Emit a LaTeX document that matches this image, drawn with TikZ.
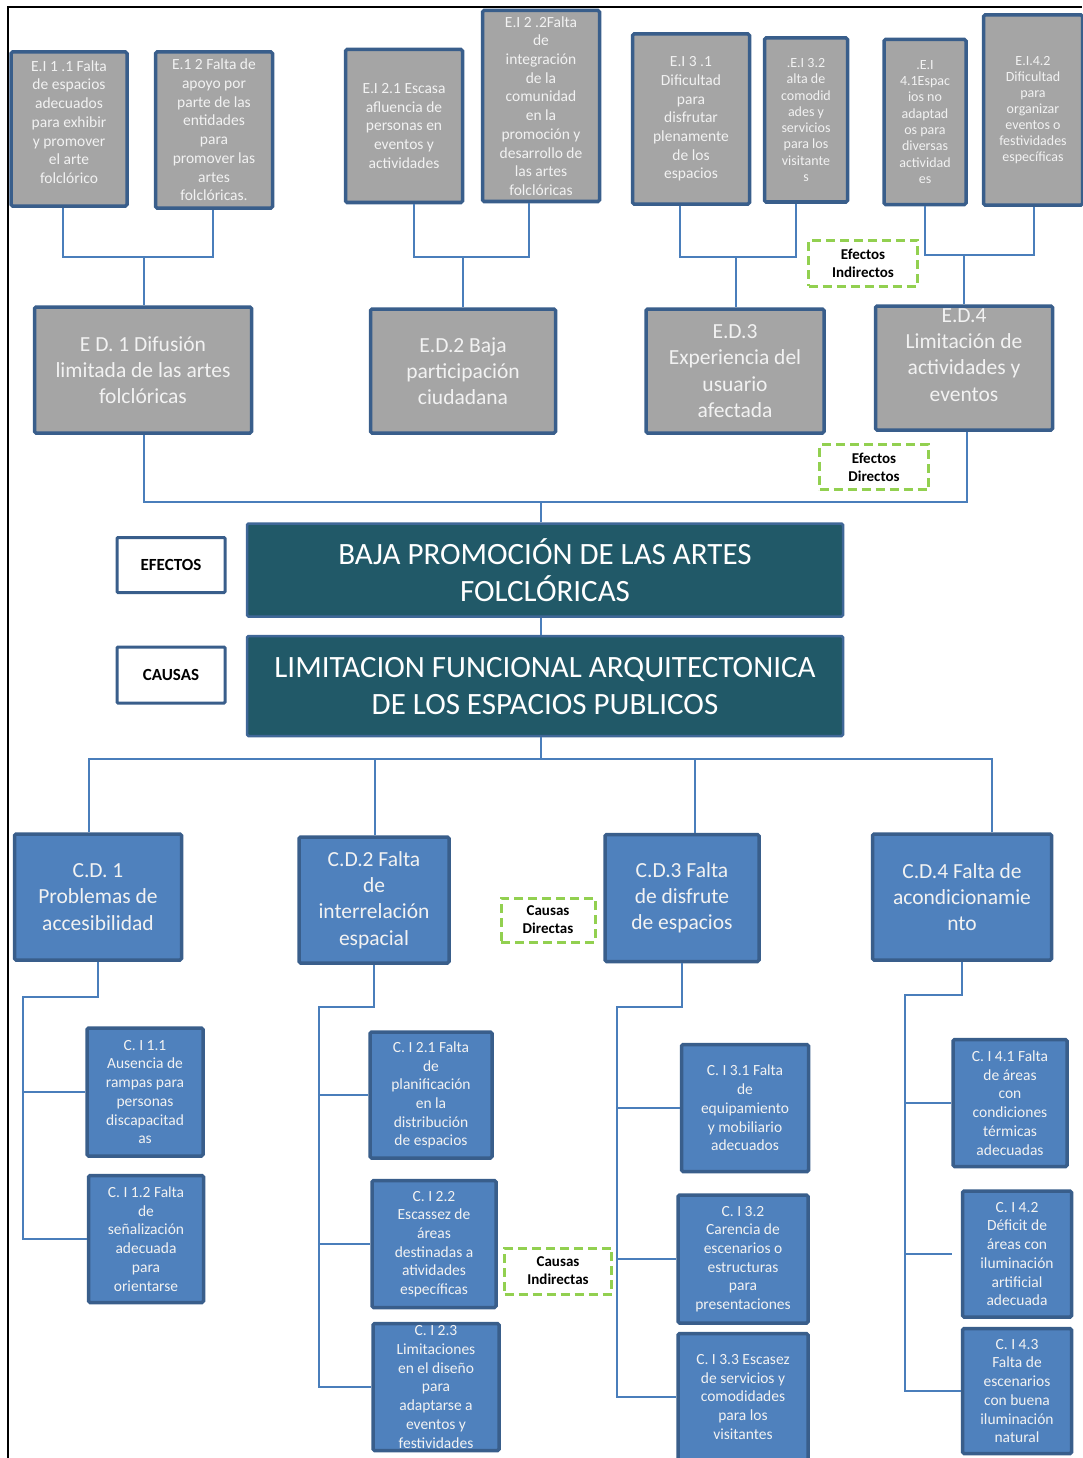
\documentclass[tikz,border=0pt]{standalone}
\usepackage{fontspec}
\setmainfont{Carlito}
\definecolor{boxgrey}{HTML}{A5A5A5}
\definecolor{frameblue}{HTML}{395E8B}
\definecolor{causeblue}{HTML}{4F81BD}
\definecolor{linkblue}{HTML}{4A7EBB}
\definecolor{coreteal}{HTML}{215968}
\definecolor{notegreen}{HTML}{92D050}
\definecolor{lighttext}{HTML}{F2F2F2}
\begin{document}
\begin{tikzpicture}
            [
            x = 1pt, y = -1pt,
            boxsize/.style 2 args = {minimum width = #1pt, minimum height = #2pt},
            link/.style = {draw = linkblue, line width = 1.8pt},
            ]
            \tikzstyle{grey node}=[rectangle,draw=frameblue,fill=boxgrey,line width=3.5pt,rounded corners=1.5pt,inner sep=0,align=center,text=lighttext,font=\fontsize{15.5}{18.7}\selectfont]
            \tikzstyle{big grey node}=[grey node,font=\fontsize{21.5}{26.2}\selectfont]
            \tikzstyle{cause node}=[grey node,fill=causeblue]
            \tikzstyle{big cause node}=[big grey node,fill=causeblue]
            \tikzstyle{core node}=[rectangle,draw=causeblue!80!black,fill=coreteal,line width=2.5pt,rounded corners=1.5pt,inner sep=0,align=center,text=white,font=\fontsize{31}{37}\selectfont]
            \tikzstyle{tag node}=[rectangle,draw=frameblue,fill=white,line width=3pt,rounded corners=1pt,inner sep=0,font=\fontsize{17}{20}\selectfont\bfseries]
            \tikzstyle{note node}=[rectangle,draw=notegreen,line width=3pt,dash pattern=on 9pt off 5pt,inner sep=0,align=center,font=\fontsize{15}{18}\selectfont\bfseries]
        
            \useasboundingbox (0,0) rectangle (1082,1458);
            \draw[black, line width=2pt] (8,1458) -- (8,7) -- (1082,7);

            % efectos indirectos
            \node[grey node, boxsize={116}{154}] (ei11) at (69,129) {E.I 1 .1 Falta\\de espacios\\adecuados\\para exhibir\\y promover\\el arte\\folclórico\\[-4.7pt]\mbox{}};
            \node[grey node, boxsize={117}{156}] (ei12) at (214,130) {E.1 2 Falta de\\apoyo por\\parte de las\\entidades\\para\\promover las\\artes\\folclóricas.};
            \node[grey node, boxsize={117}{153}] (ei21) at (404,126) {E.I 2.1 Escasa\\afluencia de\\personas en\\eventos y\\actividades};
            \node[grey node, boxsize={117}{191}] (ei22) at (541,106) {E.I 2 .2Falta\\de\\integración\\de la\\comunidad\\en la\\promoción y\\desarrollo de\\las artes\\folclóricas};
            \node[grey node, boxsize={117}{170}] (ei31) at (691,119) {E.I 3 .1\\Dificultad\\para\\disfrutar\\plenamente\\de los\\espacios};
            \node[grey node, boxsize={83}{164}, font=\fontsize{14}{16.3}\selectfont] (ei32) at (806,120) {.E.I 3.2\\alta de\\comodid\\ades y\\servicios\\para los\\visitante\\s};
            \node[grey node, boxsize={82}{165}, font=\fontsize{14}{16.3}\selectfont] (ei41) at (925,122) {.E.I\\4.1Espac\\ios no\\adaptad\\os para\\diversas\\actividad\\es};
            \node[grey node, boxsize={99}{190}, font=\fontsize{14}{16}\selectfont] (ei42) at (1033,110) {E.I.4.2\\Dificultad\\para\\organizar\\eventos o\\festividades\\específicas};

            % efectos directos
            \node[big grey node, boxsize={217}{126}] (ed1) at (143,370) {E D. 1 Difusión\\limitada de las artes\\folclóricas};
            \node[big grey node, boxsize={185}{124}] (ed2) at (463,371) {E.D.2 Baja\\participación\\ciudadana};
            \node[big grey node, boxsize={178}{124}] (ed3) at (735,371) {E.D.3\\Experiencia del\\usuario\\afectada};
            \node[big grey node, boxsize={177}{124}] (ed4) at (964,368) {E.D.4\\Limitación de\\actividades y\\eventos\\\mbox{}};

            \node[note node, boxsize={109}{46}] (nei) at (863,263) {Efectos\\Indirectos};
            \node[note node, boxsize={109}{45}] (ned) at (874,467) {Efectos\\Directos};

            % problema central
            \node[core node, boxsize={596}{93}] (core1) at (545,570) {BAJA PROMOCIÓN DE LAS ARTES\\FOLCLÓRICAS};
            \node[core node, boxsize={596}{100}] (core2) at (545,686) {LIMITACION FUNCIONAL ARQUITECTONICA\\DE LOS ESPACIOS PUBLICOS};
            \node[tag node, boxsize={108}{55}] (tefe) at (171,565) {EFECTOS};
            \node[tag node, boxsize={108}{56}] (tcau) at (171,675) {CAUSAS};

            % causas directas
            \node[big cause node, boxsize={167}{126}] (cd1) at (98,897) {C.D. 1\\Problemas de\\accesibilidad};
            \node[big cause node, boxsize={150}{126}] (cd2) at (374,900) {C.D.2 Falta\\de\\interrelación\\espacial};
            \node[big cause node, boxsize={154}{127}] (cd3) at (682,898) {C.D.3 Falta\\de disfrute\\de espacios};
            \node[big cause node, boxsize={179}{126}] (cd4) at (962,897) {C.D.4 Falta de\\acondicionamie\\nto};
            \node[note node, boxsize={94}{44}] (ncd) at (548,920) {Causas\\Directas};

            % causas indirectas
            \node[cause node, boxsize={116}{128}] (ci11) at (145,1092) {C. I 1.1\\Ausencia de\\rampas para\\personas\\discapacitad\\as};
            \node[cause node, boxsize={115}{127}] (ci12) at (146,1239) {C. I 1.2 Falta\\de\\señalización\\adecuada\\para\\orientarse};
            \node[cause node, boxsize={122}{126}] (ci21) at (431,1095) {C. I 2.1 Falta\\de\\planificación\\en la\\distribución\\de espacios};
            \node[cause node, boxsize={124}{127}] (ci22) at (434,1244) {C. I 2.2\\Escassez de\\áreas\\destinadas a\\atividades\\específicas};
            \node[cause node, boxsize={126}{127}] (ci23) at (436,1387) {C. I 2.3\\Limitaciones\\en el diseño\\para\\adaptarse a\\eventos y\\festividades};
            \node[cause node, boxsize={127}{127}] (ci31) at (745,1108) {C. I 3.1 Falta\\de\\equipamiento\\y mobiliario\\adecuados};
            \node[cause node, boxsize={130}{128}] (ci32) at (743,1259) {C. I 3.2\\Carencia de\\escenarios o\\estructuras\\para\\presentaciones};
            \node[cause node, boxsize={130}{127}] (ci33) at (743,1397) {C. I 3.3 Escasez\\de servicios y\\comodidades\\para los\\visitantes};
            \node[cause node, boxsize={114}{127}] (ci41) at (1010,1103) {C. I 4.1 Falta\\de áreas\\con\\condiciones\\térmicas\\adecuadas};
            \node[cause node, boxsize={109}{126}] (ci42) at (1017,1254) {C. I 4.2\\Déficit de\\áreas con\\iluminación\\artificial\\adecuada};
            \node[cause node, boxsize={109}{125}] (ci43) at (1017,1391) {C. I 4.3\\Falta de\\escenarios\\con buena\\iluminación\\natural};
            \node[note node, boxsize={107}{46}] (nci) at (558,1271) {Causas\\Indirectas};

            % conectores de efectos
            \coordinate (j1) at (144,257);
            \coordinate (j2) at (463,257);
            \coordinate (j3) at (736,257);
            \coordinate (j4) at (964,255);
            \draw[link] ([xshift=-6pt]ei11.south) |- (j1) -| ([xshift=-1pt]ei12.south);
            \draw[link] (j1) -- (j1 |- ed1.north);
            \draw[link] ([xshift=10pt]ei21.south) |- (j2) -| ([xshift=-12pt]ei22.south);
            \draw[link] (j2) -- (j2 |- ed2.north);
            \draw[link] ([xshift=-11pt]ei31.south) |- (j3) -| ([xshift=-10pt]ei32.south);
            \draw[link] (j3) -- (j3 |- ed3.north);
            \draw[link] (ei41.south) |- (j4) -| ([xshift=1pt]ei42.south);
            \draw[link] (j4) -- (j4 |- ed4.north);
            \coordinate (eb) at (541,502);
            \draw[link] ([xshift=1pt]ed1.south) |- (eb) -| ([xshift=3pt]ed4.south);
            \draw[link] (eb) -- (eb |- core1.north);
            \draw[link] (eb |- core1.south) -- (eb |- core2.north);

            % conectores de causas
            \coordinate (cb) at (541,759);
            \draw[link] (cb |- core2.south) -- (cb);
            \draw[link] ([xshift=-9pt]cd1.north) |- (cb) -| ([xshift=30pt]cd4.north);
            \draw[link] ([xshift=1pt]cd2.north) -- ([xshift=1pt]cd2.north |- cb);
            \draw[link] ([xshift=13pt]cd3.north) -- ([xshift=13pt]cd3.north |- cb);
            \coordinate (t1) at (23,997);
            \coordinate (t2) at (319,1007);
            \coordinate (t3) at (617,1007);
            \coordinate (t4) at (905,995);
            \draw[link] (cd1.south) |- (t1) |- (ci12.west);
            \draw[link] (t1 |- ci11.west) -- (ci11.west);
            \draw[link] (cd2.south) |- (t2) |- (ci23.west);
            \draw[link] (t2 |- ci21.west) -- (ci21.west);
            \draw[link] (t2 |- ci22.west) -- (ci22.west);
            \draw[link] (cd3.south) |- (t3) |- (ci33.west);
            \draw[link] (t3 |- ci31.west) -- (ci31.west);
            \draw[link] (t3 |- ci32.west) -- (ci32.west);
            \draw[link] (cd4.south) |- (t4) |- (ci43.west);
            \draw[link] (t4 |- ci41.west) -- (ci41.west);
            \draw[link] (t4 |- ci42.west) -- ([xshift=-9pt]ci42.west);
        \end{tikzpicture}
\end{document}
